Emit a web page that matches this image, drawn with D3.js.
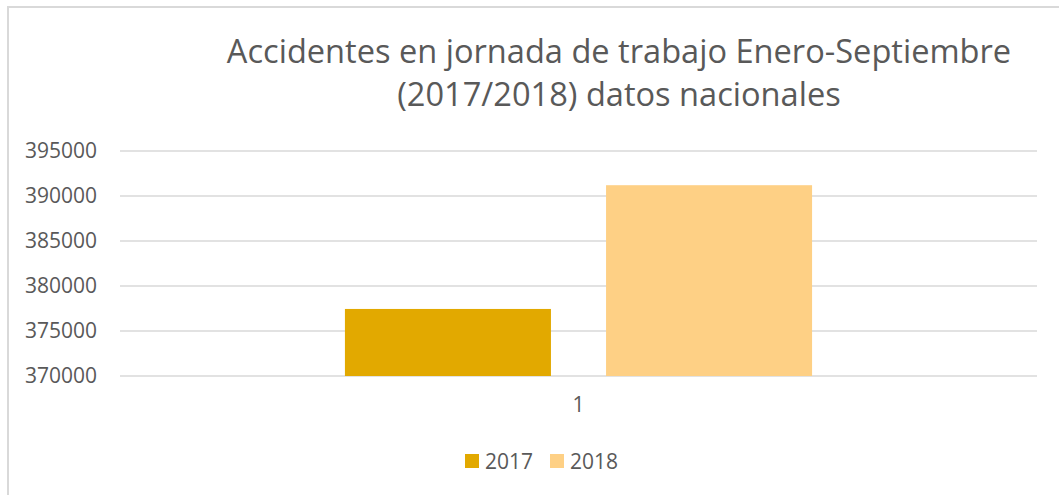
<!DOCTYPE html>
<html>
<head>
<meta charset="utf-8">
<script src="https://cdn.jsdelivr.net/npm/d3@7"></script>
<style>
  html, body { margin: 0; padding: 0; background: #fff; }
  svg { display: block; font-family: "Open Sans", "Noto Sans", sans-serif; }
</style>
</head>
<body>
<svg id="chart" width="1059" height="495"></svg>
<script>
const categories = ['1'];
const seriesNames = ['2017', '2018'];
const values2017 = [377450];
const values2018 = [391200];
const yTicks = [370000, 375000, 380000, 385000, 390000, 395000];
const colors = ['#e2a900', '#fed085'];
const titleLines = ['Accidentes en jornada de trabajo Enero-Septiembre', '(2017/2018) datos nacionales'];

const svg = d3.select('#chart');
const textColor = '#595959';
const gridColor = '#d9d9d9';

const plot = { left: 120, right: 1037, top: 151, bottom: 376 };

// outer border of the chart area
svg.append('rect')
  .attr('x', 8).attr('y', 7)
  .attr('width', 1070).attr('height', 500)
  .attr('fill', 'none')
  .attr('stroke', gridColor)
  .attr('stroke-width', 2);

// title
svg.append('text')
  .attr('text-anchor', 'middle')
  .attr('fill', textColor)
  .attr('font-size', 32.6)
  .selectAll('tspan')
  .data(titleLines)
  .join('tspan')
  .attr('x', 619)
  .attr('y', (d, i) => 63 + i * 43)
  .text(d => d);

const y = d3.scaleLinear()
  .domain([370000, 395000])
  .range([plot.bottom, plot.top]);

const x0 = d3.scaleBand()
  .domain(categories)
  .range([plot.left, plot.right])
  .padding(0.325);

const x1 = d3.scaleBand()
  .domain(seriesNames)
  .range([0, x0.bandwidth()])
  .paddingInner(0.211);

// gridlines
svg.append('g')
  .selectAll('line')
  .data(yTicks)
  .join('line')
  .attr('x1', plot.left).attr('x2', plot.right)
  .attr('y1', d => y(d)).attr('y2', d => y(d))
  .attr('stroke', gridColor)
  .attr('stroke-width', 1.5);

// y axis labels
const yAxis = d3.axisLeft(y).tickValues(yTicks).tickSize(0).tickPadding(0).tickFormat(d3.format('d'));
const yg = svg.append('g')
  .attr('transform', `translate(${97},0)`)
  .call(yAxis);
yg.select('.domain').remove();
yg.selectAll('text')
  .attr('fill', textColor)
  .attr('font-size', 21)
  .attr('font-family', '"Open Sans", sans-serif');

// bars
const rows = categories.map((c, i) => ({ cat: c, vals: [values2017[i], values2018[i]] }));
svg.append('g')
  .selectAll('g')
  .data(rows)
  .join('g')
  .attr('transform', d => `translate(${x0(d.cat)},0)`)
  .selectAll('rect')
  .data(d => d.vals.map((v, j) => ({ name: seriesNames[j], v, color: colors[j] })))
  .join('rect')
  .attr('x', d => x1(d.name))
  .attr('width', x1.bandwidth())
  .attr('y', d => y(d.v))
  .attr('height', d => y(370000) - y(d.v))
  .attr('fill', d => d.color);

// x axis labels
const xAxis = d3.axisBottom(x0).tickSize(0).tickPadding(0);
const xg = svg.append('g')
  .attr('transform', `translate(0,${397})`)
  .call(xAxis);
xg.select('.domain').remove();
xg.selectAll('text')
  .attr('fill', textColor)
  .attr('font-size', 21)
  .attr('font-family', '"Open Sans", sans-serif');

// legend
const legendX = [465, 550];
const legend = svg.append('g')
  .selectAll('g')
  .data(seriesNames)
  .join('g')
  .attr('transform', (d, i) => `translate(${legendX[i]},454)`);
legend.append('rect')
  .attr('width', 14).attr('height', 14)
  .attr('fill', (d, i) => colors[i]);
legend.append('text')
  .attr('x', 20).attr('y', 14.5)
  .attr('fill', textColor)
  .attr('font-size', 21)
  .text(d => d);
</script>
</body>
</html>
